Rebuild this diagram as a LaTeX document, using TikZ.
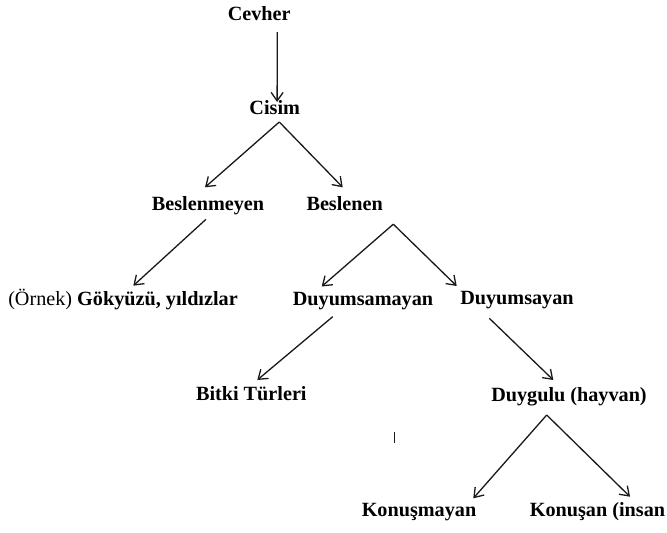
\documentclass[tikz,border=0pt]{standalone}
\usepackage{fontspec}
\setmainfont{Liberation Serif}
\usetikzlibrary{arrows.meta}
\begin{document}
\begin{tikzpicture}[x=1pt,y=-1pt,
  lbl/.style={anchor=base,inner sep=0pt,font=\fontsize{20.2}{24}\selectfont\bfseries},
  conn/.style={draw=black!90,line width=1.3pt,-{Straight Barb[length=8.5pt,width=12pt,line width=1.3pt]}}]
\useasboundingbox (0,0) rectangle (667,533);
\fill[white] (0,0) rectangle (667,533);
% nodes
\node[lbl] (cevher) at (259.2,20) {Cevher};
\node[lbl] (cisim) at (274.7,114) {Cisim};
\node[lbl] (bm) at (208,210) {Beslenmeyen};
\node[lbl] (bl) at (344.7,210) {Beslenen};
\node[lbl] (ornek) at (123,305) {{\mdseries (Örnek)} Gökyüzü, yıldızlar};
\node[lbl] (dm) at (363,305) {Duyumsamayan};
\node[lbl] (ds) at (517,304) {Duyumsayan};
\node[lbl] (bitki) at (251.3,400) {Bitki Türleri};
\node[lbl] (duygulu) at (569,401.7) {Duygulu (hayvan)};
\node[lbl] (konm) at (419,516.7) {Konuşmayan};
\node[lbl] (kon) at (597.5,516.7) {Konuşan (insan};
% connectors
\draw[conn] ([shift={(18.1,12)}]cevher.base) -- ([shift={(2.4,-12)}]cisim.base);
\draw[conn] ([shift={(4.6,8)}]cisim.base) -- ([shift={(-3,-22.7)}]bm.base);
\draw[conn] ([shift={(4.6,8)}]cisim.base) -- ([shift={(-2,-22.7)}]bl.base);
\draw[conn] ([shift={(-2,9.3)}]bm.base) -- ([shift={(10.3,-19.3)}]ornek.base);
\draw[conn] ([shift={(48.6,14.2)}]bl.base) -- ([shift={(-41.3,-18.5)}]dm.base);
\draw[conn] ([shift={(48.6,14.2)}]bl.base) -- ([shift={(-60.3,-18)}]ds.base);
\draw[conn] ([shift={(-30.3,11.7)}]dm.base) -- ([shift={(6,-20)}]bitki.base);
\draw[conn] ([shift={(-27.7,14.3)}]ds.base) -- ([shift={(-15.7,-21.7)}]duygulu.base);
\draw[conn] ([shift={(-22.3,13.3)}]duygulu.base) -- ([shift={(54.3,-18.4)}]konm.base);
\draw[conn] ([shift={(-22.3,13.3)}]duygulu.base) -- ([shift={(32.5,-20)}]kon.base);
% stray cursor mark
\coordinate (cursor) at (394.3,431.7);
\draw[black!90,line width=1.3pt] (cursor) -- ++(0,11.6);
\end{tikzpicture}
\end{document}
